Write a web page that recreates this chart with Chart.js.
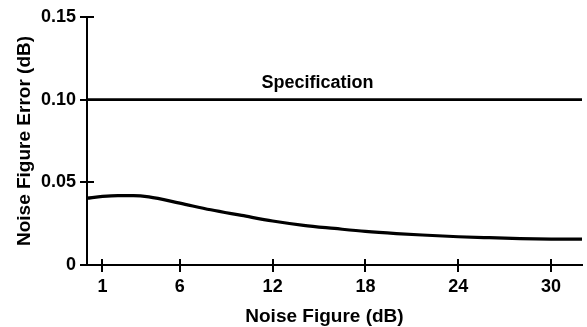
<!DOCTYPE html>
<html>
<head>
<meta charset="utf-8">
<script src="https://cdn.jsdelivr.net/npm/chart.js@4/dist/chart.umd.min.js"></script>
<style>
  html, body { margin: 0; padding: 0; background: #fff; }
  #wrap { width: 587px; height: 327px; position: relative; }
</style>
</head>
<body>
<div id="wrap"><canvas id="c" width="587" height="327"></canvas></div>
<script>
// Data
const noiseFigure = [0, 1, 2, 3, 4, 6, 8, 10, 12, 14, 16, 18, 20, 22, 24, 26, 28, 30, 32];
const noiseFigureError = [0.0404, 0.0415, 0.0420, 0.0420, 0.0412, 0.0374, 0.0334, 0.0300, 0.0266, 0.0240, 0.0221, 0.0203, 0.0190, 0.0180, 0.0171, 0.0165, 0.0160, 0.0157, 0.0156];
const specX = [0, 32];
const specValue = [0.10, 0.10];
const specLabel = 'Specification';
const xTicks = [1, 6, 12, 18, 24, 30];
const yTicks = [0, 0.05, 0.10, 0.15];
const yTickLabels = ['0', '0.05', '0.10', '0.15'];
const xTitle = 'Noise Figure (dB)';
const yTitle = 'Noise Figure Error (dB)';

const FONT = '"Liberation Sans", Arial, sans-serif';

const crossTicks = {
  id: 'crossTicks',
  afterDatasetsDraw(chart) {
    const ctx = chart.ctx;
    const xs = chart.scales.x, ys = chart.scales.y;
    const y0 = ys.getPixelForValue(0);
    const x0 = xs.getPixelForValue(0);
    ctx.save();
    ctx.strokeStyle = '#000';
    ctx.lineWidth = 2;
    ctx.beginPath();
    xTicks.forEach(v => {
      const px = Math.round(xs.getPixelForValue(v));
      ctx.moveTo(px, y0 - 6); ctx.lineTo(px, y0 + 7);
    });
    yTicks.forEach(v => {
      const py = Math.round(ys.getPixelForValue(v));
      ctx.moveTo(x0 - 7, py); ctx.lineTo(x0 + 7, py);
    });
    ctx.stroke();
    ctx.fillStyle = '#000';
    ctx.textAlign = 'center';
    ctx.textBaseline = 'alphabetic';
    // spec label
    ctx.font = 'bold 18px ' + FONT;
    ctx.fillText(specLabel, xs.getPixelForValue(14.9), ys.getPixelForValue(specValue[0]) - 12);
    // x axis title
    ctx.font = 'bold 19px ' + FONT;
    ctx.fillText(xTitle, xs.getPixelForValue(15.35), 322);
    ctx.restore();
  }
};

new Chart(document.getElementById('c'), {
  type: 'scatter',
  data: {
    datasets: [
      {
        data: noiseFigure.map((x, i) => ({ x, y: noiseFigureError[i] })),
        showLine: true, borderColor: '#000', borderWidth: 3.2, pointRadius: 0,
        tension: 0.4, cubicInterpolationMode: 'monotone'
      },
      {
        data: specX.map((x, i) => ({ x, y: specValue[i] })),
        showLine: true, borderColor: '#000', borderWidth: 2.6, pointRadius: 0
      }
    ]
  },
  plugins: [crossTicks],
  options: {
    responsive: false,
    animation: false,
    events: [],
    layout: { padding: { left: 0, right: 5, top: 17, bottom: 0 } },
    plugins: { legend: { display: false }, tooltip: { enabled: false } },
    scales: {
      x: {
        type: 'linear', min: 0, max: 32,
        afterBuildTicks: s => { s.ticks = xTicks.map(v => ({ value: v })); },
        afterFit: s => { s.height = 62; s.paddingLeft = 0; s.paddingRight = 0; },
        grid: { display: false, drawTicks: false },
        border: { display: true, color: '#000', width: 2 },
        ticks: { color: '#000', padding: 11, font: { family: FONT, size: 18, weight: 'bold' }, maxRotation: 0 },
        title: { display: false }
      },
      y: {
        type: 'linear', min: 0, max: 0.15,
        afterBuildTicks: s => { s.ticks = yTicks.map(v => ({ value: v })); },
        afterFit: s => { s.width = 87; s.paddingTop = 0; s.paddingBottom = 0; },
        grid: { display: false, drawTicks: false },
        border: { display: true, color: '#000', width: 2 },
        ticks: {
          color: '#000', padding: 11, font: { family: FONT, size: 18, weight: 'bold' },
          callback: (v) => { const i = yTicks.findIndex(t => Math.abs(t - v) < 1e-9); return i >= 0 ? yTickLabels[i] : ''; }
        },
        title: { display: true, text: yTitle, color: '#000', padding: { top: 13, bottom: 0 }, font: { family: FONT, size: 19, weight: 'bold' } }
      }
    }
  }
});
</script>
</body>
</html>
